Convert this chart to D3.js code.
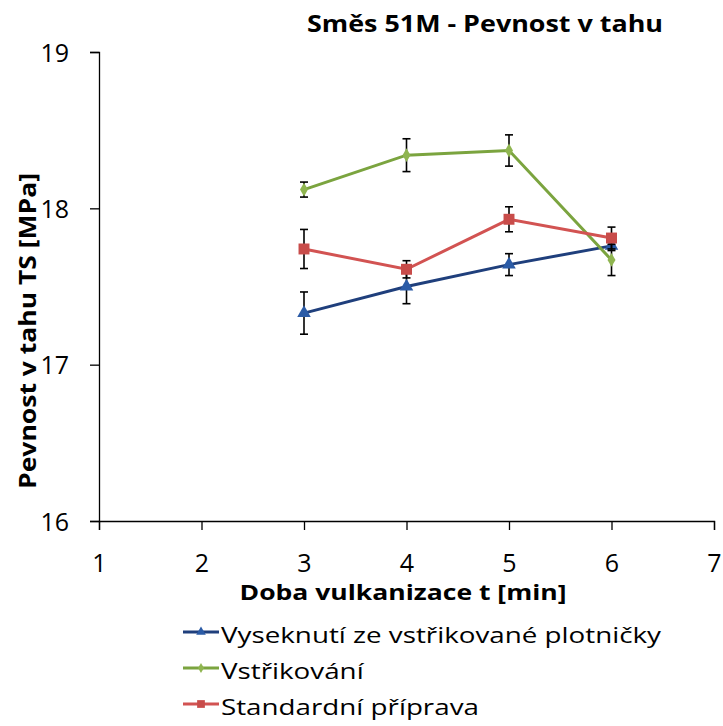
<!DOCTYPE html>
<html>
<head>
<meta charset="utf-8">
<script src="https://cdn.jsdelivr.net/npm/d3@7"></script>
<style>
  html, body { margin: 0; padding: 0; background: #fff; }
  svg { display: block; font-family: "Open Sans", sans-serif; }
</style>
</head>
<body>
<svg id="chart" width="723" height="726"></svg>
<script>
// Vulcanisation time [min]
const times = [3, 4, 5, 6];

// Tensile strength TS [MPa] for each preparation method, with standard deviations
const seriesNames = ["Vyseknutí ze vstřikované plotničky", "Vstřikování", "Standardní příprava"];
const cutValues = [17.33, 17.50, 17.64, 17.76];
const cutErrors = [0.135, 0.11, 0.07, 0.03];
const injValues = [18.12, 18.34, 18.37, 17.67];
const injErrors = [0.048, 0.105, 0.10, 0.10];
const stdValues = [17.74, 17.61, 17.93, 17.81];
const stdErrors = [0.125, 0.055, 0.08, 0.07];

const xTicks = [1, 2, 3, 4, 5, 6, 7];
const yTicks = [16, 17, 18, 19];

const title = "Směs 51M - Pevnost v tahu";
const xTitle = "Doba vulkanizace t [min]";
const yTitle = "Pevnost v tahu TS [MPa]";

const series = [
  { name: seriesNames[0], values: cutValues, errors: cutErrors, line: "#1f3f7c", fill: "#2b5ba6", marker: "triangle" },
  { name: seriesNames[1], values: injValues, errors: injErrors, line: "#7ba43f", fill: "#8fb550", marker: "diamond" },
  { name: seriesNames[2], values: stdValues, errors: stdErrors, line: "#d25352", fill: "#c84c4a", marker: "square" }
];

const svg = d3.select("#chart");
const x = d3.scaleLinear().domain([1, 7]).range([99, 714]);
const y = d3.scaleLinear().domain([16, 19]).range([521, 52]);

// Stretch a text element horizontally to a given width (labels use a wide face)
function fitWidth(sel, width) {
  sel.attr("textLength", width).attr("lengthAdjust", "spacingAndGlyphs");
}

// Title
svg.append("text")
  .attr("x", 485).attr("y", 32)
  .attr("text-anchor", "middle")
  .attr("font-size", 24).attr("font-weight", "bold")
  .text(title)
  .call(fitWidth, 356);

// Axes
const yAxis = svg.append("g")
  .attr("transform", `translate(${x(1)},0)`)
  .call(d3.axisLeft(y).tickValues(yTicks).tickFormat(d3.format("d")).tickSize(9).tickPadding(21));
const xAxis = svg.append("g")
  .attr("transform", `translate(0,${y(16)})`)
  .call(d3.axisBottom(x).tickValues(xTicks).tickFormat(d3.format("d")).tickSize(9).tickPadding(12));

[xAxis, yAxis].forEach(g => {
  g.select(".domain").attr("stroke", "#000").attr("stroke-width", 1.3);
  g.selectAll(".tick line").attr("stroke", "#000").attr("stroke-width", 1.3);
  g.selectAll(".tick text").attr("font-size", 25).attr("fill", "#000")
    .attr("font-family", "'Open Sans', sans-serif");
});
yAxis.selectAll(".tick text").attr("dy", "0.36em");
xAxis.selectAll(".tick text").attr("dy", "0").attr("y", 51);

// Axis titles
svg.append("text")
  .attr("x", 403).attr("y", 600)
  .attr("text-anchor", "middle")
  .attr("font-size", 22).attr("font-weight", "bold")
  .text(xTitle)
  .call(fitWidth, 327);
svg.append("text")
  .attr("transform", `translate(36,331)rotate(-90)`)
  .attr("text-anchor", "middle")
  .attr("font-size", 23).attr("font-weight", "bold")
  .text(yTitle)
  .call(fitWidth, 316);

const symbolFor = {
  triangle: d3.symbol().type(d3.symbolTriangle).size(80),
  diamond: d3.symbol().type(d3.symbolDiamond).size(55),
  square: d3.symbol().type(d3.symbolSquare).size(120)
};

const line = d3.line().x((d, i) => x(times[i])).y(d => y(d));

series.forEach(s => {
  const g = svg.append("g");
  g.append("path")
    .attr("d", line(s.values))
    .attr("fill", "none")
    .attr("stroke", s.line)
    .attr("stroke-width", 3);
  // error bars
  s.values.forEach((v, i) => {
    const cx = x(times[i]);
    const top = y(v + s.errors[i]), bot = y(v - s.errors[i]);
    g.append("line").attr("x1", cx).attr("x2", cx).attr("y1", top).attr("y2", bot)
      .attr("stroke", "#000").attr("stroke-width", 1.6);
    [top, bot].forEach(yy => g.append("line")
      .attr("x1", cx - 4).attr("x2", cx + 4).attr("y1", yy).attr("y2", yy)
      .attr("stroke", "#000").attr("stroke-width", 1.6));
  });
  // markers
  s.values.forEach((v, i) => {
    g.append("path")
      .attr("d", symbolFor[s.marker]())
      .attr("transform", `translate(${x(times[i])},${y(v)})`)
      .attr("fill", s.fill);
  });
});

// Legend
const legend = svg.append("g");
const legendY = [632, 668, 704];
const legendSymbols = {
  triangle: d3.symbol().type(d3.symbolTriangle).size(40),
  diamond: d3.symbol().type(d3.symbolDiamond).size(30),
  square: d3.symbol().type(d3.symbolSquare).size(60)
};
const legendTexts = [];
series.forEach((s, i) => {
  const gy = legendY[i];
  legend.append("line")
    .attr("x1", 183).attr("x2", 219).attr("y1", gy).attr("y2", gy)
    .attr("stroke", s.line).attr("stroke-width", 3);
  legend.append("path").attr("d", legendSymbols[s.marker]())
    .attr("transform", `translate(201,${gy})`).attr("fill", s.fill);
  legendTexts.push(legend.append("text")
    .attr("x", 221).attr("y", gy + 11)
    .attr("font-size", 22)
    .text(s.name));
});
// legend entries share one horizontal stretch, set by the longest entry
const legendStretch = 440 / legendTexts[0].node().getComputedTextLength();
legendTexts.forEach(t => t.call(fitWidth, t.node().getComputedTextLength() * legendStretch));
</script>
</body>
</html>
